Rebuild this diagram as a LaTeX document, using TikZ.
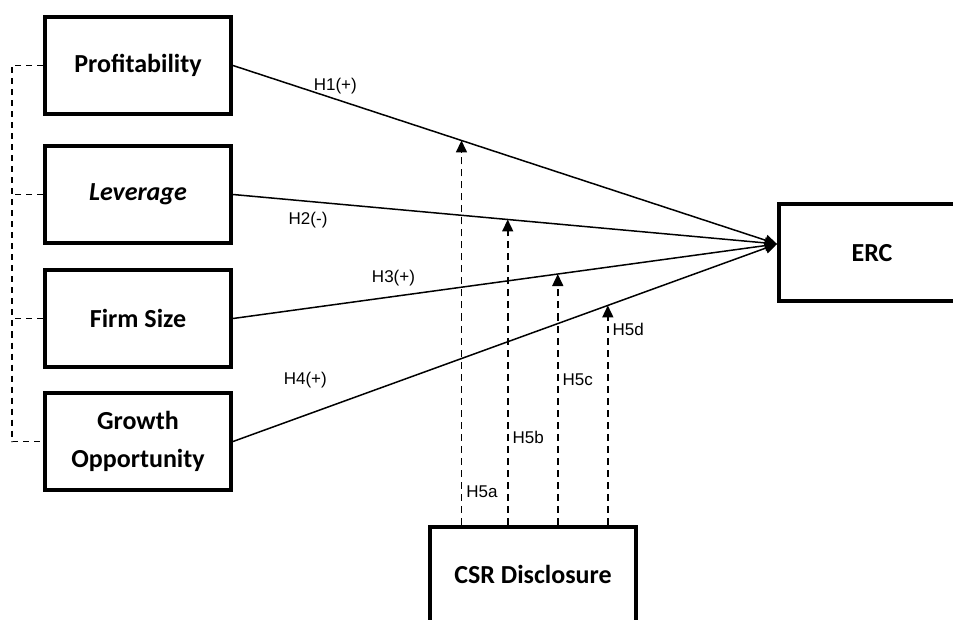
\documentclass[tikz,border=0pt]{standalone}
\usepackage{fontspec}
\usepackage{tikz}
\usetikzlibrary{arrows.meta, positioning, calc}
\newfontfamily\boxfont{Carlito}
\newfontfamily\hypfont{Liberation Sans}

\begin{document}
\begin{tikzpicture}[x=0.5pt, y=-0.5pt, >={Triangle[length=6pt, width=5.5pt]}]
        \tikzstyle{var}    = [rectangle, draw=black, line width=2pt, fill=white, minimum width=93pt, minimum height=48.5pt, align=center, font=\boxfont\bfseries\fontsize{13pt}{19pt}\selectfont]
        \tikzstyle{effect} = [->, line width=0.75pt]
        \tikzstyle{moder}  = [->, line width=0.8pt, dash pattern=on 3.5pt off 2.5pt]
        \tikzstyle{corr}   = [line width=0.6pt, dash pattern=on 3pt off 2.5pt]
        \tikzstyle{hyp}    = [font=\hypfont\fontsize{8.5pt}{10pt}\selectfont, inner sep=2pt]

        \useasboundingbox (0,0) rectangle (953,620);
        \clip (0,0) rectangle (953,620);

        % Independent variables
        \node[var] (prof) at (138,65.5) {Profitability};
        \node[var, below=14pt of prof] (lev) {\textit{Leverage}};
        \node[var, below=11.5pt of lev] (size) {Firm Size};
        \node[var, below=11pt of size] (growth) {Growth\\ Opportunity};

        % Dependent and moderating variables (both run past the page edge)
        \node[var] (erc) at (872,253) {ERC};
        \node[var, minimum width=103pt, minimum height=48pt] (csr) at (533,574.5) {CSR Disclosure};
        \coordinate (tip) at ([yshift=4.5pt]erc.west);

        % Direct effects
        \draw[effect] (prof.east) -- node[hyp, pos=0.188, above] {H1(+)} coordinate[pos=0.42] (m1) (tip);
        \draw[effect] (lev.east) -- node[hyp, pos=0.138, below=3pt] {H2(-)} coordinate[pos=0.505] (m2) (tip);
        \draw[effect] (size.east) -- node[hyp, pos=0.295, above=3pt] {H3(+)} coordinate[pos=0.597] (m3) (tip);
        \draw[effect] (growth.east) -- node[hyp, pos=0.133, above=11pt] {H4(+)} coordinate[pos=0.689] (m4) (tip);

        % Moderating effects
        \draw[moder] (m1 |- csr.north) -- node[hyp, pos=0.086, right] {H5a} (m1);
        \draw[moder] (m2 |- csr.north) -- node[hyp, pos=0.285, right] {H5b} (m2);
        \draw[moder] (m3 |- csr.north) -- node[hyp, pos=0.578, right] {H5c} (m3);
        \draw[moder] (m4 |- csr.north) -- node[hyp, pos=0.889, right] {H5d} (m4);

        % Correlations
        \draw[corr] (prof.west) -- ++(-31,0) coordinate (rail) |- (growth.west);
        \draw[corr] (lev.west) -- (lev.west -| rail);
        \draw[corr] (size.west) -- (size.west -| rail);
\end{tikzpicture}
\end{document}
